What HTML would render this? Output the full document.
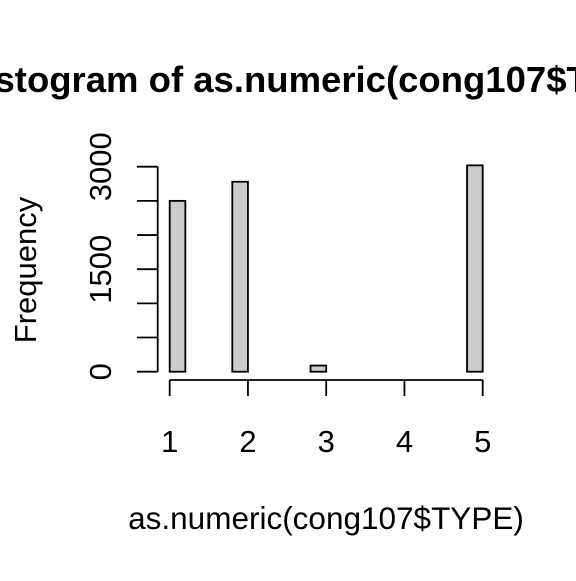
<!DOCTYPE html>
<html><head><meta charset="utf-8"><style>
html,body{margin:0;padding:0;background:#fff}
svg text{font-family:"Liberation Sans",Arial,sans-serif;fill:#000}
</style></head><body>
<svg id="chart" width="576" height="576" viewBox="0 0 576 576" xmlns="http://www.w3.org/2000/svg">
<text x="316" y="92" font-size="36.5" font-weight="bold" text-anchor="middle">Histogram of as.numeric(cong107$TYPE)</text>
<text x="326" y="529" font-size="31.5" text-anchor="middle">as.numeric(cong107$TYPE)</text>
<text transform="translate(36,270) rotate(-90)" font-size="31" text-anchor="middle">Frequency</text>
<g id="bars"></g><g id="axes"></g>
</svg>
<script>
const binStarts=[1.0,1.2,1.4,1.6,1.8,2.0,2.2,2.4,2.6,2.8,3.0,3.2,3.4,3.6,3.8,4.0,4.2,4.4,4.6,4.8];
const counts=[2500,0,0,0,2780,0,0,0,0,90,0,0,0,0,0,0,0,0,0,3020];
const binWidth=0.2;
const xTicks=[1,2,3,4,5];
const yTicks=[0,500,1000,1500,2000,2500,3000];
const yLabels=[0,1500,3000];
const NS="http://www.w3.org/2000/svg";
function sx(v){return 169.7+(v-1)*78.25;}
function sy(v){return 371.7-v*0.06833;}
function mk(tag,attrs,parent){const e=document.createElementNS(NS,tag);for(const k in attrs)e.setAttribute(k,attrs[k]);parent.appendChild(e);return e;}
const bars=document.getElementById('bars'),axes=document.getElementById('axes');
binStarts.forEach((b,i)=>{
  const y=sy(counts[i]);
  const r=mk('rect',{x:sx(b),y:y,width:sx(b+binWidth)-sx(b),height:sy(0)-y,fill:'#cccccc',stroke:'#000','stroke-width':1.8},bars);
  
  
});
const xl=mk('line',{x1:sx(xTicks[0]),x2:sx(xTicks[xTicks.length-1]),y1:380,y2:380,stroke:'#000','stroke-width':1.8},axes);


xTicks.forEach(t=>{
  const l=mk('line',{x1:sx(t),x2:sx(t),y1:380,y2:396,stroke:'#000','stroke-width':1.8},axes);
  
  
  const tx=mk('text',{x:sx(t),y:452,'font-size':31,'text-anchor':'middle'},axes);
  tx.textContent=t;
  
  
});
const yl=mk('line',{x1:157.7,x2:157.7,y1:sy(yTicks[0]),y2:sy(yTicks[yTicks.length-1]),stroke:'#000','stroke-width':1.8},axes);


yTicks.forEach(t=>{
  const l=mk('line',{x1:137,x2:157.7,y1:sy(t),y2:sy(t),stroke:'#000','stroke-width':1.8},axes);
  
  
});
yLabels.forEach(t=>{
  const tx=mk('text',{transform:'translate(111,'+sy(t)+') rotate(-90)','font-size':31,'text-anchor':'middle'},axes);
  tx.textContent=t;
  
  
});
</script>
</body></html>
